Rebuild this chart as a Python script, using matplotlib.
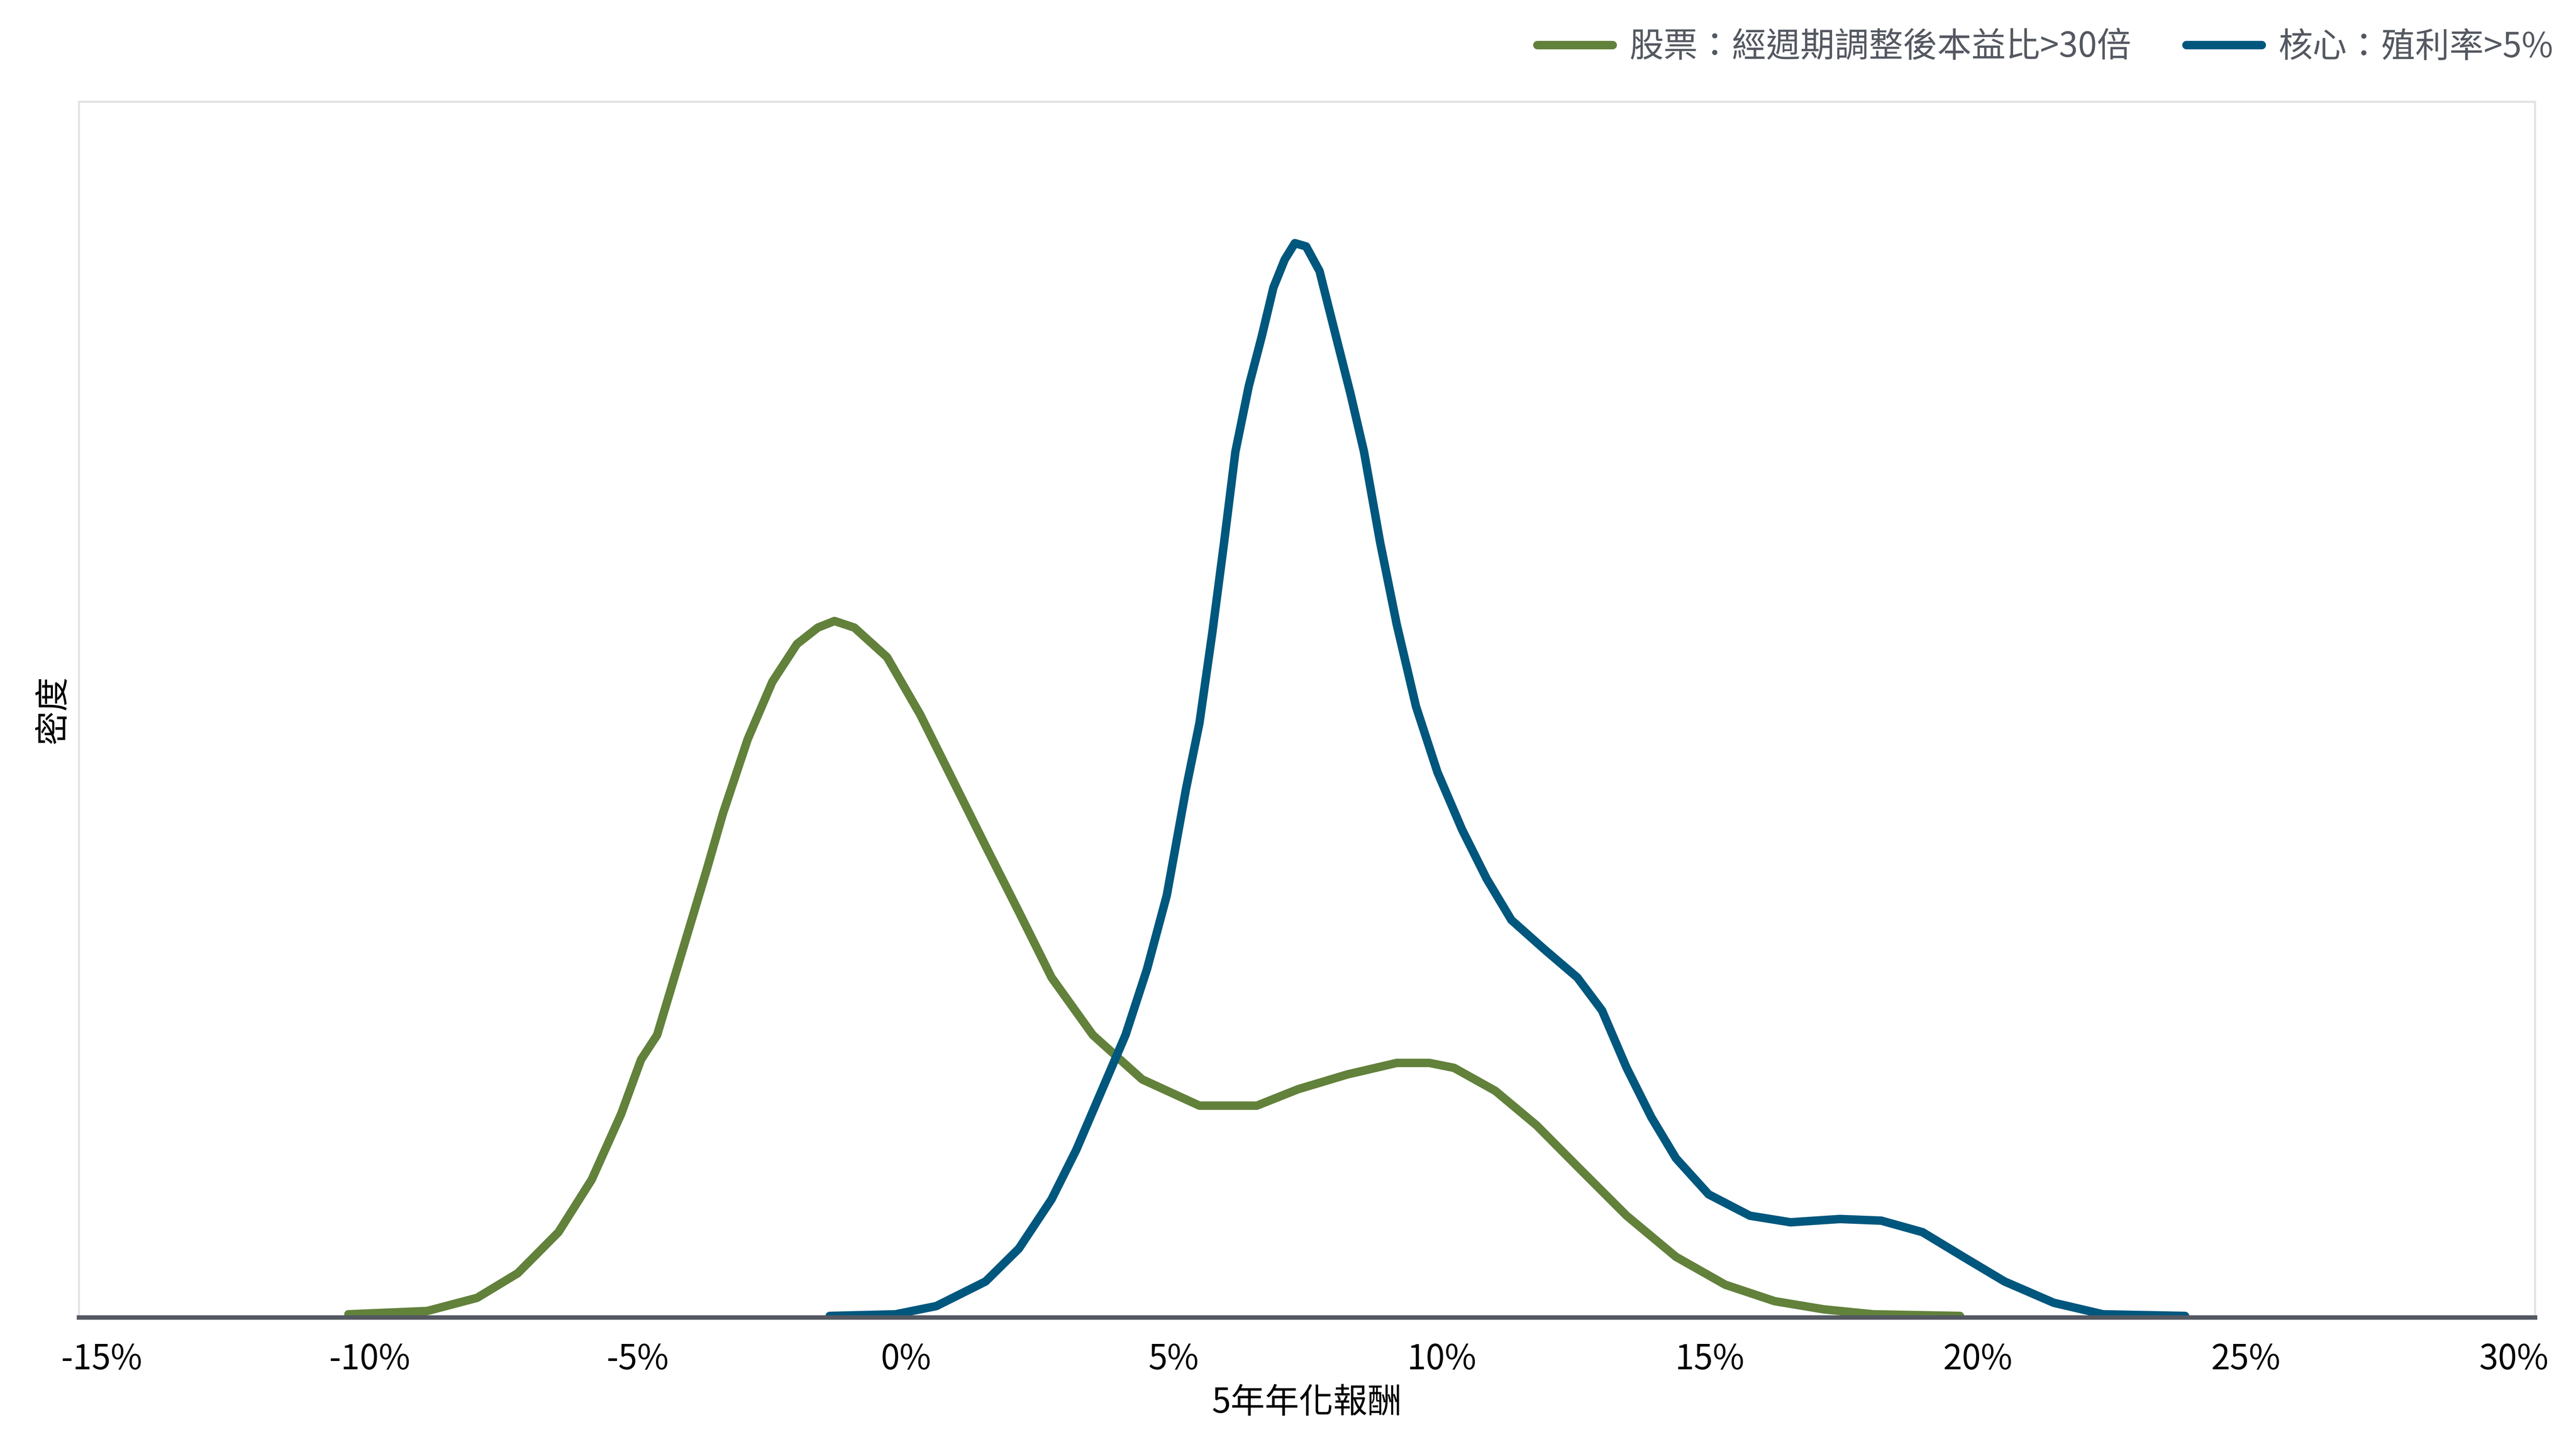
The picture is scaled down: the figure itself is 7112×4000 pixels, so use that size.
import matplotlib
matplotlib.use("Agg")
import matplotlib.pyplot as plt
import numpy as np

plt.rcParams["font.family"] = ["Noto Sans CJK TC", "DejaVu Sans"]

# 5年年化報酬 (%) 與密度 (相對單位)
equity_x = [-10.4, -8.93, -8.0, -7.24, -6.48, -5.86, -5.31, -4.94, -4.64, -4.18, -3.72, -3.41,
            -2.95, -2.49, -2.03, -1.64, -1.33, -0.96, -0.35, 0.27, 0.88, 1.49, 2.11, 2.72,
            3.49, 4.41, 5.48, 6.55, 7.32, 8.24, 9.16, 9.77, 10.23, 11.0, 11.77, 12.53,
            13.45, 14.37, 15.29, 16.21, 17.13, 18.05, 19.67]
equity_y = [2, 4, 12, 27, 52, 84, 124, 157, 172, 222, 272, 307, 352, 387, 410, 420, 424, 420,
            402, 367, 327, 287, 247, 207, 172, 145, 129, 129, 139, 148, 155, 155, 152, 138,
            117, 92, 62, 37, 20, 10, 5, 2, 1]

core_x = [-1.42, -0.19, 0.57, 1.49, 2.11, 2.72, 3.18, 3.64, 4.10, 4.50, 4.87, 5.23, 5.48,
          5.72, 5.94, 6.15, 6.40, 6.64, 6.86, 7.07, 7.26, 7.47, 7.72, 7.99, 8.30, 8.55,
          8.85, 9.16, 9.52, 9.92, 10.38, 10.84, 11.30, 11.92, 12.53, 12.99, 13.45, 13.91,
          14.37, 14.98, 15.75, 16.51, 17.43, 18.20, 18.97, 19.73, 20.50, 21.42, 22.34, 23.87]
core_y = [1, 2, 7, 22, 42, 72, 102, 137, 172, 212, 257, 322, 362, 417, 472, 527, 567, 597,
          627, 644, 654, 652, 637, 602, 562, 527, 472, 422, 372, 332, 297, 267, 242, 224,
          207, 187, 152, 122, 97, 75, 62, 58, 60, 59, 52, 37, 22, 9, 2, 1]

ticks = [-15, -10, -5, 0, 5, 10, 15, 20, 25, 30]

GREEN = "#62813b"
BLUE = "#00577e"
GREY = "#545861"

fig = plt.figure(figsize=(17.78, 10), dpi=400)
ax = fig.add_axes([0.0306, 0.0907, 0.9535, 0.839])
ax.plot(equity_x, equity_y, color=GREEN, lw=4.2, label="股票：經週期調整後本益比>30倍",
        solid_capstyle="round")
ax.plot(core_x, core_y, color=BLUE, lw=4.2, label="核心：殖利率>5%", solid_capstyle="round")

ax.set_xlim(-15.43, 30.4)
ax.set_ylim(0, 740)
ax.set_xticks(ticks)
ax.set_xticklabels([f"{t}%" for t in ticks], fontsize=17)
ax.tick_params(axis="x", length=0, pad=12)
ax.set_yticks([])
for s in ["top", "left", "right"]:
    ax.spines[s].set_color("#e2e2e2")
    ax.spines[s].set_linewidth(1)
ax.spines["bottom"].set_color(GREY)
ax.spines["bottom"].set_linewidth(2.2)
ax.set_xlabel("5年年化報酬", fontsize=17, labelpad=4)
ax.set_ylabel("密度", fontsize=17, labelpad=4)

leg = ax.legend(loc="lower right", bbox_to_anchor=(1.02, 1.005), ncol=2, frameon=False,
                fontsize=17, handlelength=2.2, columnspacing=1.6, handletextpad=0.5)
for t in leg.get_texts():
    t.set_color(GREY)

fig.savefig("out.png", dpi=400)
